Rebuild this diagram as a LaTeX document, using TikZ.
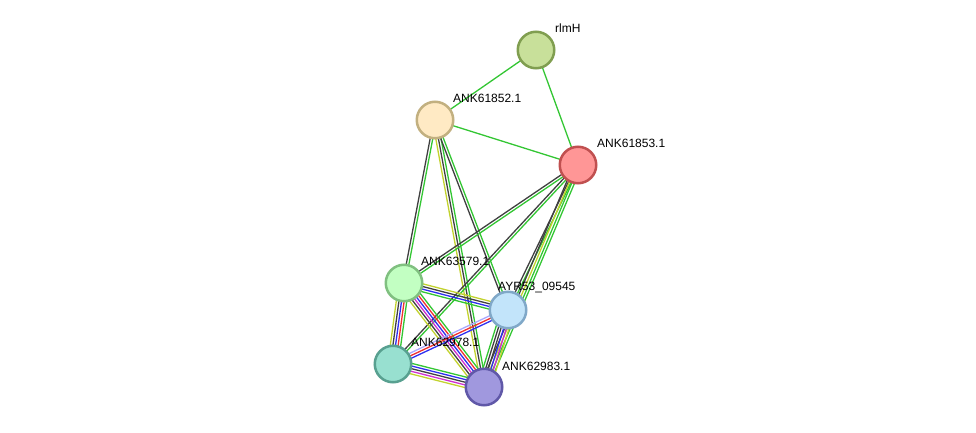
\documentclass[tikz,border=0pt]{standalone}
\usepackage{fontspec}
\setmainfont{Liberation Sans}
\usetikzlibrary{calc}
\definecolor{eg}{HTML}{33C633}
\definecolor{ey}{HTML}{C2D22E}
\definecolor{ek}{HTML}{404040}
\definecolor{eb}{HTML}{2E2EF0}
\definecolor{er}{HTML}{F03030}
\definecolor{em}{HTML}{D030D0}
\definecolor{el}{HTML}{A8A8FF}
\tikzset{
  prot/.style={circle, minimum size=36.5pt, inner sep=0pt, line width=2.5pt},
  lbl/.style={anchor=south west, inner sep=0pt, font=\fontsize{12}{13}\selectfont},
  eline/.style={line width=1.3pt}
}
\newcommand\bundle[4]{%
  \foreach \c [count=\i] in {#4} {%
    \pgfmathsetmacro\off{(\i-(#3+1)/2)*2.6}%
    \draw[eline, draw=\c] ($(#1)!\off pt!90:(#2)$) -- ($(#2)!\off pt!-90:(#1)$);
  }%
}
\begin{document}
\begin{tikzpicture}[x=1pt,y=-1pt]
\useasboundingbox (0,0) rectangle (976,433);
\coordinate (r) at (536,50);
\coordinate (a) at (435,120);
\coordinate (b) at (578,165);
\coordinate (c) at (404,283);
\coordinate (d) at (508,310);
\coordinate (e) at (393,364);
\coordinate (f) at (484,387);
% edges
\bundle{r}{a}{1}{eg}
\bundle{r}{b}{1}{eg}
\bundle{a}{b}{1}{eg}
\bundle{a}{c}{2}{ek,eg}
\bundle{a}{f}{3}{ey,ek,eg}
\bundle{a}{d}{2}{ek,eg}
\bundle{b}{c}{2}{ek,eg}
\bundle{b}{e}{2}{ek,eg}
\bundle{b}{d}{2}{ek,eg}
\bundle{b}{f}{4}{ek,ey,eg,eg}
\bundle{c}{d}{4}{eg,eb,ek,ey}
\bundle{c}{f}{6}{ey,ek,em,eb,er,eg}
\bundle{c}{e}{5}{ey,ek,eb,er,eg}
\bundle{e}{d}{3}{eb,er,el}
\bundle{e}{f}{5}{ey,em,ek,eb,eg}
\bundle{d}{f}{6}{eg,ek,ek,eb,em,ey}
% nodes
\node[prot, fill={rgb,255:red,200;green,224;blue,154}, draw={rgb,255:red,128;green,158;blue,80}] (rlmH) at (r) {};
\node[prot, fill={rgb,255:red,255;green,234;blue,196}, draw={rgb,255:red,194;green,176;blue,128}] (n1) at (a) {};
\node[prot, fill={rgb,255:red,255;green,150;blue,150}, draw={rgb,255:red,192;green,80;blue,80}] (n2) at (b) {};
\node[prot, fill={rgb,255:red,194;green,255;blue,194}, draw={rgb,255:red,128;green,192;blue,128}] (n3) at (c) {};
\node[prot, fill={rgb,255:red,194;green,228;blue,250}, draw={rgb,255:red,128;green,168;blue,200}] (n4) at (d) {};
\node[prot, fill={rgb,255:red,152;green,224;blue,208}, draw={rgb,255:red,88;green,160;blue,144}] (n5) at (e) {};
\node[prot, fill={rgb,255:red,160;green,152;blue,222}, draw={rgb,255:red,96;green,88;blue,168}] (n6) at (f) {};
% labels
\node[lbl] (l0) at (555,33) {rlmH};
\node[lbl] (l1) at (453,103) {ANK61852.1};
\node[lbl] (l2) at (597,148) {ANK61853.1};
\node[lbl] (l3) at (421,266) {ANK63579.1};
\node[lbl] (l4) at (498,293) {AYR53\_09545};
\node[lbl] (l5) at (411,347) {ANK62978.1};
\node[lbl] (l6) at (502,371) {ANK62983.1};
\end{tikzpicture}
\end{document}
